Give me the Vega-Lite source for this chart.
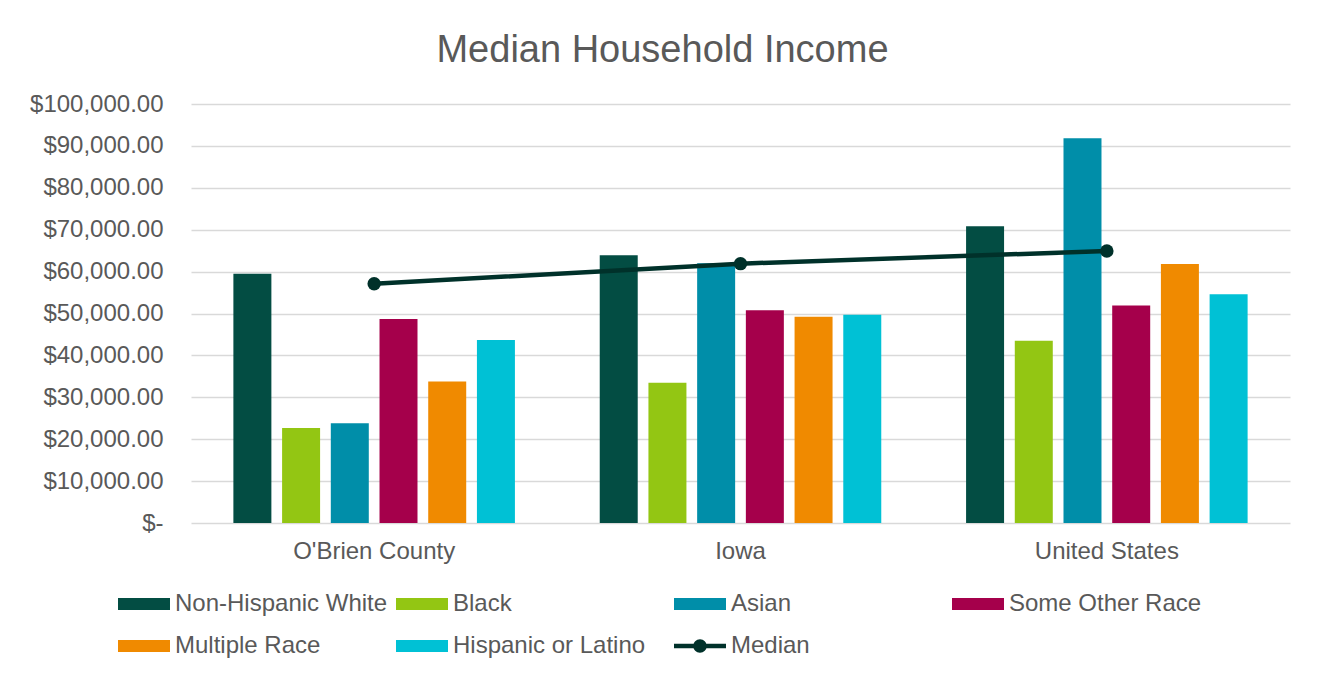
{
  "$schema": "https://vega.github.io/schema/vega-lite/v6.json",
  "autosize": {"type": "none"},
  "width": 1099,
  "height": 419,
  "padding": {"left": 191, "top": 104, "right": 27, "bottom": 152},
  "background": "white",
  "config": {"view": {"stroke": null}, "font": "Liberation Sans"},
  "title": {
    "text": "Median Household Income",
    "fontSize": 38,
    "font": "Liberation Sans",
    "fontWeight": "normal",
    "color": "#595959",
    "anchor": "middle",
    "frame": "group",
    "dx": -78,
    "baseline": "alphabetic",
    "offset": -8
  },
  "data": {
    "values": [
      {"area": "O'Brien County", "series": "Non-Hispanic White", "income": 59500},
      {"area": "O'Brien County", "series": "Black", "income": 22700},
      {"area": "O'Brien County", "series": "Asian", "income": 23800},
      {"area": "O'Brien County", "series": "Some Other Race", "income": 48700},
      {"area": "O'Brien County", "series": "Multiple Race", "income": 33800},
      {"area": "O'Brien County", "series": "Hispanic or Latino", "income": 43700},
      {"area": "O'Brien County", "series": "Median", "income": 57100},
      {"area": "Iowa", "series": "Non-Hispanic White", "income": 63900},
      {"area": "Iowa", "series": "Black", "income": 33500},
      {"area": "Iowa", "series": "Asian", "income": 62000},
      {"area": "Iowa", "series": "Some Other Race", "income": 50800},
      {"area": "Iowa", "series": "Multiple Race", "income": 49200},
      {"area": "Iowa", "series": "Hispanic or Latino", "income": 49700},
      {"area": "Iowa", "series": "Median", "income": 61900},
      {"area": "United States", "series": "Non-Hispanic White", "income": 70800},
      {"area": "United States", "series": "Black", "income": 43500},
      {"area": "United States", "series": "Asian", "income": 91800},
      {"area": "United States", "series": "Some Other Race", "income": 51900},
      {"area": "United States", "series": "Multiple Race", "income": 61800},
      {"area": "United States", "series": "Hispanic or Latino", "income": 54600},
      {"area": "United States", "series": "Median", "income": 64900}
    ]
  },
  "layer": [
    {
      "transform": [{"filter": "datum.series !== 'Median'"}],
      "mark": {"type": "bar"},
      "encoding": {
        "x": {
          "field": "area",
          "type": "nominal",
          "sort": ["O'Brien County", "Iowa", "United States"],
          "scale": {"paddingInner": 0.2315, "paddingOuter": 0.1157},
          "axis": {
            "title": null,
            "labelAngle": 0,
            "labelFontSize": 24,
            "labelColor": "#595959",
            "labelPadding": 16,
            "ticks": false,
            "domain": false,
            "grid": false
          }
        },
        "xOffset": {
          "field": "series",
          "type": "nominal",
          "sort": ["Non-Hispanic White", "Black", "Asian", "Some Other Race", "Multiple Race", "Hispanic or Latino"],
          "scale": {"paddingInner": 0.22, "paddingOuter": 0}
        },
        "y": {
          "field": "income",
          "type": "quantitative",
          "scale": {"domain": [0, 100000]},
          "axis": {
            "title": null,
            "values": [0, 10000, 20000, 30000, 40000, 50000, 60000, 70000, 80000, 90000, 100000],
            "labelExpr": "datum.value === 0 ? '$-  ' : format(datum.value, '$,.2f')",
            "labelFontSize": 24,
            "labelColor": "#595959",
            "labelPadding": 28,
            "ticks": false,
            "domain": false,
            "grid": true,
            "gridColor": "#D9D9D9",
            "gridWidth": 1.5
          }
        },
        "color": {
          "field": "series",
          "type": "nominal",
          "scale": {
            "domain": ["Non-Hispanic White", "Black", "Asian", "Some Other Race", "Multiple Race", "Hispanic or Latino", "Median"],
            "range": ["#034D43", "#93C613", "#008EA9", "#A5004B", "#F08A00", "#00C1D5", "#00312A"]
          },
          "legend": {
            "title": null,
            "orient": "none",
            "legendX": -73,
            "legendY": 474,
            "columns": 4,
            "direction": "horizontal",
            "gridAlign": "all",
            "columnPadding": 8,
            "rowPadding": 4,
            "symbolSize": 2704,
            "symbolType": "M-1,-0.23L1,-0.23L1,0.23L-1,0.23Z",
            "symbolStrokeWidth": 0,
            "symbolOpacity": 1,
            "labelFontSize": 24,
            "labelColor": "#595959",
            "labelOffset": 5,
            "labelLimit": 400,
            "encode": {
              "symbols": {
                "update": {
                  "shape": [
                    {"test": "datum.value === 'Median'", "value": "M-1,-0.085L1,-0.085L1,0.085L-1,0.085Z M-0.26,0A0.26,0.26 0 1,1 0.26,0A0.26,0.26 0 1,1 -0.26,0Z"},
                    {"value": "M-1,-0.23L1,-0.23L1,0.23L-1,0.23Z"}
                  ]
                }
              }
            }
          }
        }
      }
    },
    {
      "transform": [{"filter": "datum.series === 'Median'"}],
      "mark": {
        "type": "line",
        "color": "#00312A",
        "strokeWidth": 4.5,
        "point": {"filled": true, "size": 180, "color": "#00312A", "opacity": 1}
      },
      "encoding": {
        "x": {"field": "area", "type": "nominal", "sort": ["O'Brien County", "Iowa", "United States"]},
        "y": {"field": "income", "type": "quantitative"}
      }
    }
  ]
}
